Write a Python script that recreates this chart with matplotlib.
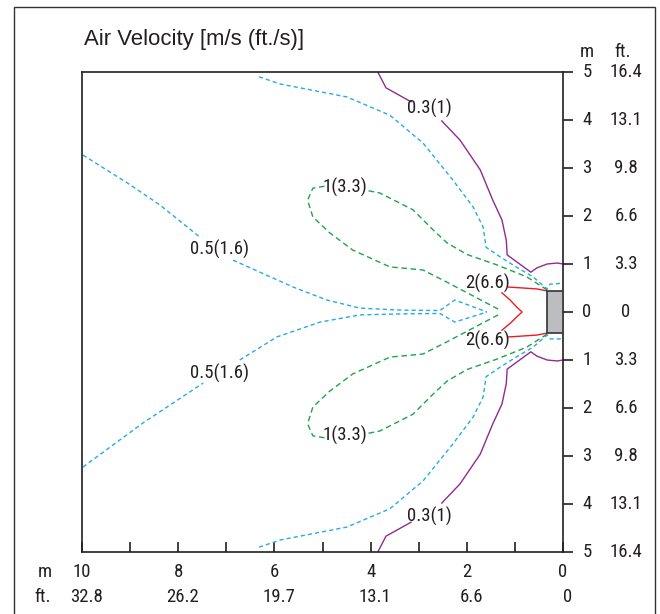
import matplotlib
matplotlib.use("Agg")
import matplotlib.pyplot as plt
from matplotlib import font_manager as fm
from matplotlib.patches import Rectangle

# ---------------- data (metres; x = distance from unit, y = lateral offset) -------------
x_ticks_m = [10, 8, 6, 4, 2, 0]
x_ticks_ft = ["32.8", "26.2", "19.7", "13.1", "6.6", "0"]
y_ticks_m = [5, 4, 3, 2, 1, 0, -1, -2, -3, -4, -5]
y_labels_m = ["5", "4", "3", "2", "1", "0", "1", "2", "3", "4", "5"]
y_labels_ft = ["16.4", "13.1", "9.8", "6.6", "3.3", "0", "3.3", "6.6", "9.8", "13.1", "16.4"]

# 0.3 m/s contour (purple)
p03_up_a_x = [3.85, 3.68, 3.16]
p03_up_a_y = [5.0, 4.67, 4.38]
p03_up_b_x = [2.52, 2.14, 1.72, 1.46, 1.27, 1.18, 1.16, 0.67, 0.54, 0.33, 0.12, 0.0]
p03_up_b_y = [3.98, 3.58, 2.96, 2.33, 1.92, 1.5, 1.19, 0.83, 0.92, 1.0, 1.02, 1.0]
p03_lo_a_x = [3.85, 3.68, 3.16]
p03_lo_a_y = [-5.0, -4.67, -4.38]
p03_lo_b_x = [2.52, 2.14, 1.72, 1.46, 1.27, 1.18, 1.16, 0.67, 0.54, 0.33, 0.12, 0.0]
p03_lo_b_y = [-3.98, -3.58, -2.96, -2.33, -1.92, -1.5, -1.19, -0.83, -0.92, -1.0, -1.02, -1.0]

# 0.5 m/s contour (cyan) - near lobe
c05_near_up_x = [6.32, 5.88, 4.49, 3.6, 2.91, 2.29, 1.87, 1.66, 1.60, 1.37, 1.04, 0.62, 0.33, 0.27, 0.0]
c05_near_up_y = [4.9, 4.75, 4.48, 4.1, 3.52, 2.75, 2.19, 1.77, 1.35, 1.19, 0.98, 0.73, 0.48, 0.58, 0.6]
c05_near_lo_x = [6.32, 5.88, 4.49, 3.6, 2.91, 2.29, 1.87, 1.66, 1.60, 1.37, 1.04, 0.62, 0.33, 0.27, 0.0]
c05_near_lo_y = [-4.9, -4.75, -4.48, -4.1, -3.52, -2.75, -2.19, -1.77, -1.35, -1.19, -0.98, -0.73, -0.48, -0.56, -0.56]
# 0.5 m/s contour (cyan) - long central throw
c05_far_up_a_x = [9.98, 9.06, 8.38, 7.55]
c05_far_up_a_y = [3.27, 2.69, 2.23, 1.56]
c05_far_up_b_x = [6.86, 5.61, 4.91, 4.22, 3.39, 2.56, 2.25, 1.58]
c05_far_up_b_y = [1.08, 0.52, 0.25, 0.08, 0.04, 0.03, 0.25, 0.0]
c05_far_lo_a_x = [9.98, 8.73, 7.48]
c05_far_lo_a_y = [-3.23, -2.31, -1.48]
c05_far_lo_b_x = [6.72, 5.95, 5.05, 4.22, 3.39, 2.56, 2.25, 1.58]
c05_far_lo_b_y = [-1.0, -0.52, -0.21, -0.06, -0.04, -0.03, -0.21, 0.0]

# 1 m/s contour (green)
g1_up_outer_x = [0.33, 0.75, 1.37, 2.0, 2.41, 2.70, 3.12, 3.81, 4.12]
g1_up_outer_y = [0.46, 0.73, 0.98, 1.2, 1.44, 1.71, 2.13, 2.48, 2.54]
g1_up_inner_x = [4.96, 5.2, 5.31, 5.2, 4.85, 4.37, 3.6, 2.91, 2.41, 1.31]
g1_up_inner_y = [2.62, 2.58, 2.33, 1.98, 1.65, 1.29, 0.94, 0.875, 0.62, 0.04]
g1_lo_outer_x = [0.33, 0.75, 1.37, 2.0, 2.41, 2.70, 3.12, 3.81, 4.12]
g1_lo_outer_y = [-0.46, -0.73, -0.98, -1.2, -1.44, -1.71, -2.13, -2.48, -2.54]
g1_lo_inner_x = [4.96, 5.2, 5.31, 5.2, 4.85, 4.37, 3.6, 2.91, 2.41, 1.31]
g1_lo_inner_y = [-2.62, -2.58, -2.33, -1.98, -1.65, -1.29, -0.94, -0.875, -0.62, -0.04]

# 2 m/s contour (red)
r2_up_x = [1.14, 0.83, 0.54, 0.33]
r2_up_y = [0.52, 0.50, 0.48, 0.44]
r2_mid_x = [1.27, 1.10, 0.96, 0.85, 0.96, 1.08, 1.27]
r2_mid_y = [0.40, 0.25, 0.10, 0.0, -0.10, -0.22, -0.38]
r2_lo_x = [1.14, 0.83, 0.54, 0.33]
r2_lo_y = [-0.52, -0.50, -0.48, -0.44]

# contour labels
label_texts = ["0.3(1)", "0.3(1)", "0.5(1.6)", "0.5(1.6)", "1(3.3)", "1(3.3)", "2(6.6)", "2(6.6)"]
label_x = [2.77, 2.77, 7.15, 7.15, 4.53, 4.53, 1.58, 1.58]
label_y = [4.25, -4.25, 1.30, -1.27, 2.60, -2.58, 0.60, -0.60]

# unit (air outlet) extents
unit_depth = 0.33
unit_half_width = 0.44

# ---------------- style -------------
names = {f.name for f in fm.fontManager.ttflist}
NARROW = "Liberation Sans"
for cand in ["Liberation Sans Narrow", "Arial Narrow", "Nimbus Sans Narrow",
             "Roboto Condensed", "Archivo Narrow", "PT Sans Narrow", "Barlow Condensed"]:
    if cand in names:
        NARROW = cand
        break
WIDE = "Liberation Sans"
TXT = "#231F20"
PURPLE = "#8E2C91"
CYAN = "#29ABE2"
GREEN = "#1FA34A"
RED = "#ED1C24"
FS = 13.5

fig = plt.figure(figsize=(6.6, 6.14), dpi=100)
ax = fig.add_axes([82 / 660, 1 - 552 / 614, 481 / 660, 480 / 614])
ax.set_xlim(10, 0)
ax.set_ylim(-5, 5)

for s in ax.spines.values():
    s.set_linewidth(1.2)
    s.set_color(TXT)

# contours
kw_p = dict(color=PURPLE, lw=1.0, solid_joinstyle="miter")
for xs, ys in [(p03_up_a_x, p03_up_a_y), (p03_up_b_x, p03_up_b_y),
               (p03_lo_a_x, p03_lo_a_y), (p03_lo_b_x, p03_lo_b_y)]:
    ax.plot(xs, ys, **kw_p)

kw_c = dict(color=CYAN, lw=1.0, dashes=(3.0, 2.2))
for xs, ys in [(c05_near_up_x, c05_near_up_y), (c05_near_lo_x, c05_near_lo_y),
               (c05_far_up_a_x, c05_far_up_a_y), (c05_far_up_b_x, c05_far_up_b_y),
               (c05_far_lo_a_x, c05_far_lo_a_y), (c05_far_lo_b_x, c05_far_lo_b_y)]:
    ax.plot(xs, ys, **kw_c)

kw_g = dict(color=GREEN, lw=1.0, dashes=(4.0, 2.6))
for xs, ys in [(g1_up_outer_x, g1_up_outer_y), (g1_up_inner_x, g1_up_inner_y),
               (g1_lo_outer_x, g1_lo_outer_y), (g1_lo_inner_x, g1_lo_inner_y)]:
    ax.plot(xs, ys, **kw_g)

kw_r = dict(color=RED, lw=1.0)
for xs, ys in [(r2_up_x, r2_up_y), (r2_mid_x, r2_mid_y), (r2_lo_x, r2_lo_y)]:
    ax.plot(xs, ys, **kw_r)

ax.add_patch(Rectangle((0, -unit_half_width), unit_depth, 2 * unit_half_width,
                       facecolor="#BCBDC0", edgecolor="#333333", lw=1.2, zorder=5))

for t, x, y in zip(label_texts, label_x, label_y):
    ax.text(x, y, t, ha="center", va="center", fontsize=FS, family=NARROW, color=TXT, zorder=6)

# ticks
ax.set_xticks(range(0, 11))
ax.set_xticklabels([])
ax.tick_params(axis="x", direction="in", length=7, width=1.2, color=TXT, top=False)
ax.set_yticks(y_ticks_m)
ax.set_yticklabels([])
ax.yaxis.tick_right()
ax.tick_params(axis="y", direction="out", length=7, width=1.2, color=TXT, left=False, right=True)

xt = ax.get_xaxis_transform()
for v, ftl in zip(x_ticks_m, x_ticks_ft):
    ax.text(v, -0.0417, str(v), transform=xt, ha="center", va="center",
            fontsize=FS, family=NARROW, color=TXT, clip_on=False)
    ax.text(v - 0.09, -0.094, ftl, transform=xt, ha="center", va="center",
            fontsize=FS, family=NARROW, color=TXT, clip_on=False)
ax.text(-0.077, -0.0417, "m", transform=ax.transAxes, ha="center", va="center",
        fontsize=FS, family=NARROW, color=TXT)
ax.text(-0.081, -0.094, "ft.", transform=ax.transAxes, ha="center", va="center",
        fontsize=FS, family=NARROW, color=TXT)

yt = ax.get_yaxis_transform()
for v, ml, fl in zip(y_ticks_m, y_labels_m, y_labels_ft):
    ax.text(1.05, v, ml, transform=yt, ha="center", va="center",
            fontsize=FS, family=NARROW, color=TXT, clip_on=False)
    ax.text(1.131, v, fl, transform=yt, ha="center", va="center",
            fontsize=FS, family=NARROW, color=TXT, clip_on=False)
ax.text(1.05, 1.042, "m", transform=ax.transAxes, ha="center", va="center",
        fontsize=FS, family=NARROW, color=TXT)
ax.text(1.125, 1.042, "ft.", transform=ax.transAxes, ha="center", va="center",
        fontsize=FS, family=NARROW, color=TXT)

fig.text(84 / 660, 1 - 40 / 614, "Air Velocity [m/s (ft./s)]", ha="left", va="center",
         fontsize=15.9, family=WIDE, color=TXT)

# outer frame
fig.add_artist(Rectangle((14 / 660, -0.02), (655 - 14) / 660, 1.02 - 7 / 614,
                         transform=fig.transFigure, fill=False, edgecolor="#333333", lw=1.0))

fig.savefig("out.png", dpi=100)
